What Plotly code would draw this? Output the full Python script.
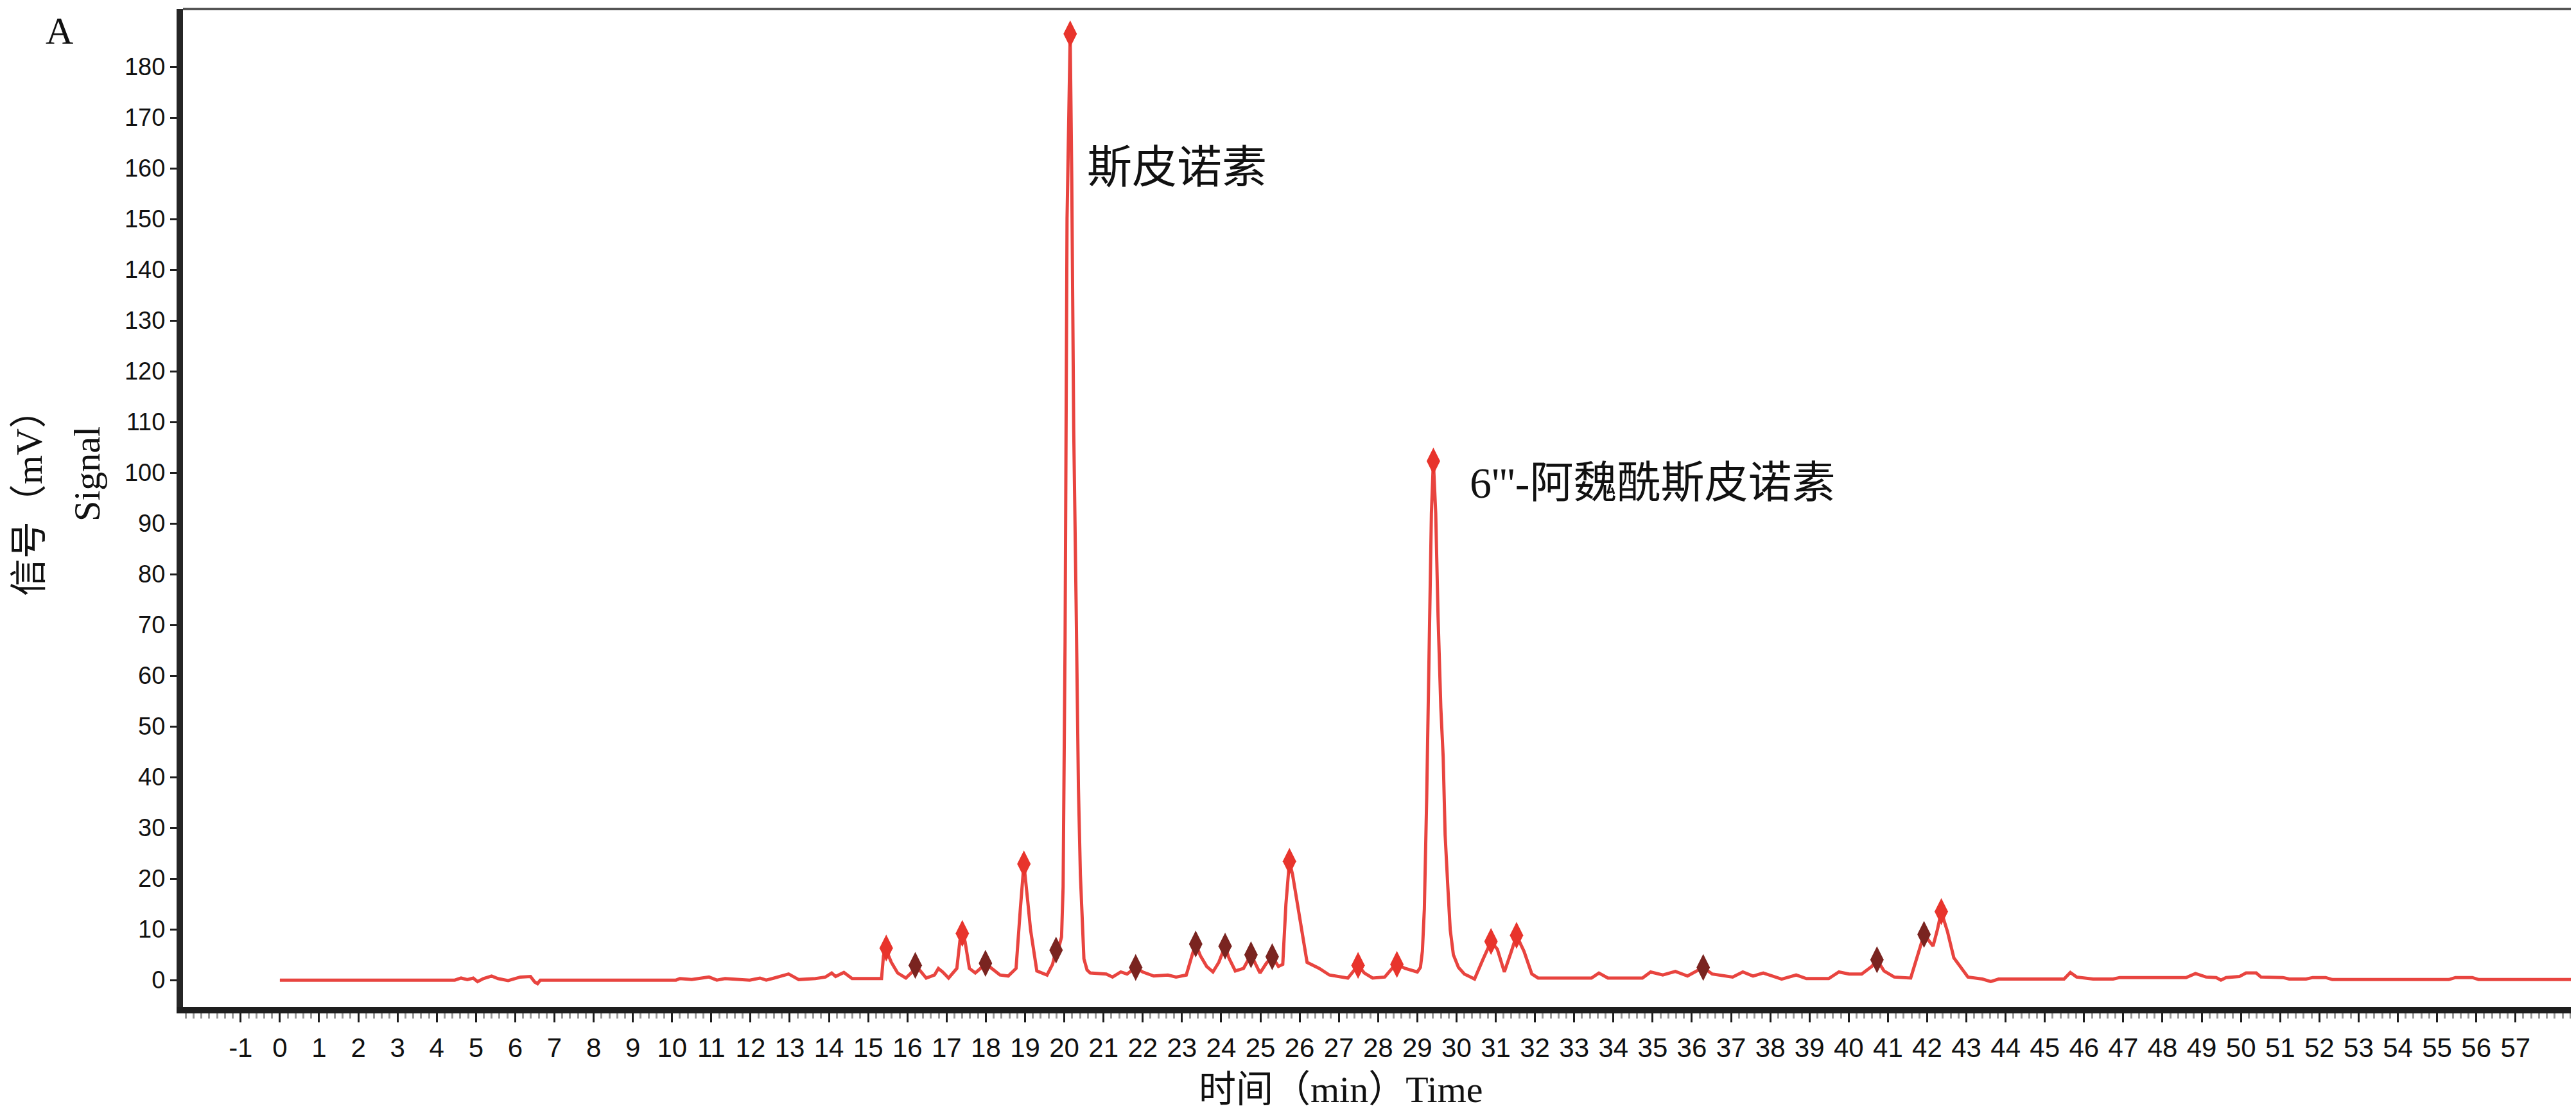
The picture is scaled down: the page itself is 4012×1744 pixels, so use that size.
import plotly.graph_objects as go

# ---------------- data ----------------
TIME_MIN = [0.0, 4.46, 4.62, 4.78, 4.93, 5.04, 5.19, 5.40, 5.56, 5.82, 6.13, 6.39, 6.50, 6.57, 6.64,
            10.1, 10.2, 10.5, 10.94, 11.14, 11.35, 11.98, 12.24, 12.4, 12.6, 12.97, 13.23, 13.65,
            13.91, 14.07, 14.17, 14.38, 14.59, 14.8, 15.0, 15.34, 15.39, 15.46, 15.52, 15.59, 15.75,
            15.96, 16.12, 16.20, 16.33, 16.48, 16.69, 16.79, 16.90, 17.05, 17.26, 17.34, 17.40, 17.47,
            17.58, 17.73, 17.89, 17.99, 18.15, 18.36, 18.57, 18.77, 18.88, 18.97, 19.07, 19.14, 19.30,
            19.56, 19.70, 19.79, 19.88, 19.93, 19.97, 20.02, 20.07, 20.15, 20.19, 20.24, 20.30, 20.36,
            20.41, 20.46, 20.50, 20.58, 20.66, 21.07, 21.23, 21.44, 21.60, 21.82, 22.00, 22.28, 22.64,
            22.85, 23.11, 23.27, 23.35, 23.47, 23.63, 23.79, 23.94, 24.10, 24.20, 24.36, 24.57, 24.76,
            24.88, 24.99, 25.15, 25.30, 25.46, 25.57, 25.65, 25.74, 25.82, 25.93, 26.03, 26.19, 26.50,
            26.76, 27.23, 27.39, 27.49, 27.65, 27.86, 28.17, 28.38, 28.48, 28.69, 29.00, 29.08, 29.13,
            29.18, 29.24, 29.31, 29.36, 29.41, 29.47, 29.53, 29.60, 29.66, 29.71, 29.78, 29.84, 29.92,
            30.05, 30.20, 30.46, 30.67, 30.88, 31.04, 31.22, 31.40, 31.53, 31.72, 31.92, 32.08, 33.44,
            33.63, 33.86, 34.74, 34.95, 35.26, 35.58, 35.89, 36.29, 36.52, 37.04, 37.30, 37.56, 37.82,
            38.29, 38.66, 38.92, 39.49, 39.75, 40.01, 40.33, 40.59, 40.72, 40.90, 41.16, 41.58, 41.79,
            41.92, 42.15, 42.26, 42.36, 42.52, 42.68, 43.04, 43.41, 43.62, 43.82, 45.49, 45.65, 45.81,
            46.23, 46.74, 46.91, 48.60, 48.84, 49.11, 49.37, 49.49, 49.62, 49.96, 50.13, 50.39, 50.51,
            51.07, 51.23, 51.66, 51.83, 52.16, 52.33, 55.30, 55.47, 55.90, 56.06, 58.6]
SIGNAL_MV = [0.0, 0.0, 0.4, 0.1, 0.4, -0.3, 0.3, 0.8, 0.3, -0.1, 0.6, 0.7, -0.4, -0.7, 0.0,
             0.0, 0.3, 0.1, 0.6, 0.0, 0.3, 0.0, 0.4, 0.0, 0.4, 1.2, 0.1, 0.3,
             0.6, 1.4, 0.7, 1.5, 0.3, 0.3, 0.3, 0.3, 4.8, 6.3, 4.8, 3.5, 1.4,
             0.4, 1.6, 2.9, 1.8, 0.4, 1.0, 2.3, 1.6, 0.4, 2.3, 7.8, 9.2, 7.6,
             2.3, 1.4, 2.5, 3.3, 2.3, 1.0, 0.8, 2.3, 14.1, 22.9, 15.4, 9.9, 1.8,
             1.0, 3.1, 5.9, 7.0, 8.5, 18.4, 66.8, 150.0, 186.5, 158.0, 108.6, 75.0, 38.0,
             20.8, 11.5, 4.2, 2.0, 1.4, 1.2, 0.6, 1.6, 1.2, 2.5, 1.6, 0.8, 1.0,
             0.6, 1.0, 5.2, 7.1, 4.8, 2.7, 1.6, 3.5, 6.7, 4.3, 1.8, 2.3, 5.0,
             3.1, 1.4, 3.3, 4.6, 2.7, 3.1, 14.9, 23.4, 20.8, 15.7, 10.7, 3.5, 2.3,
             1.0, 0.4, 1.8, 2.9, 1.4, 0.4, 0.6, 2.5, 3.1, 2.3, 1.6, 2.5, 5.7,
             14.0, 36.0, 66.0, 92.0, 102.3, 92.0, 71.6, 53.7, 44.0, 28.6, 18.2, 9.9, 5.0,
             2.5, 1.2, 0.2, 4.0, 7.6, 6.1, 1.6, 5.7, 8.8, 5.7, 1.2, 0.4, 0.4,
             1.4, 0.4, 0.4, 1.6, 1.0, 1.7, 0.8, 2.5, 1.2, 0.6, 1.6, 0.8, 1.4,
             0.2, 1.0, 0.3, 0.3, 1.6, 1.2, 1.2, 2.7, 4.0, 1.8, 0.6, 0.4, 5.7,
             9.0, 6.7, 9.9, 13.5, 9.5, 4.4, 0.6, 0.2, -0.3, 0.2, 0.2, 1.5, 0.6,
             0.2, 0.2, 0.5, 0.5, 1.3, 0.6, 0.5, 0.0, 0.5, 0.7, 1.4, 1.4, 0.6,
             0.5, 0.2, 0.2, 0.5, 0.5, 0.1, 0.1, 0.5, 0.5, 0.1, 0.1]

# integrated peaks (bright markers) and other detected peaks (dark markers)
MAIN_PEAK_T = [15.46, 17.40, 18.97, 20.15, 25.74, 27.49, 28.48, 29.41, 30.88, 31.53, 42.36]
MAIN_PEAK_V = [6.3, 9.2, 22.9, 186.5, 23.4, 2.9, 3.1, 102.3, 7.6, 8.8, 13.5]
MINOR_PEAK_T = [16.20, 17.99, 19.79, 21.82, 23.35, 24.10, 24.76, 25.30, 36.29, 40.72, 41.92]
MINOR_PEAK_V = [2.9, 3.3, 5.9, 2.5, 7.1, 6.7, 5.0, 4.6, 2.5, 4.0, 9.0]

PEAK_NAMES = ["斯皮诺素", "6'''-阿魏酰斯皮诺素"]
X_TICKS = list(range(-1, 58))
Y_TICKS = list(range(0, 190, 10))

# ---------------- figure ----------------
LINE_RED = "#e8443f"
MARK_RED = "#e8342c"
MARK_DARK = "#7a2420"
SERIF = "Liberation Serif, Noto Sans CJK SC, serif"
CJK = "Noto Sans CJK SC, sans-serif"

L, R, T, B = 277, 10, 6, 184
W, H = 4012, 1744
PW, PH = W - L - R, H - T - B


def px(xp):
    return (xp - L) / PW


def py(yp):
    return (H - B - yp) / PH


fig = go.Figure()
fig.add_trace(go.Scatter(x=TIME_MIN, y=SIGNAL_MV, mode="lines",
                         line=dict(color=LINE_RED, width=5), hoverinfo="skip"))
fig.add_trace(go.Scatter(x=MAIN_PEAK_T, y=MAIN_PEAK_V, mode="markers",
                         marker=dict(symbol="diamond-tall", size=30, color=MARK_RED)))
fig.add_trace(go.Scatter(x=MINOR_PEAK_T, y=MINOR_PEAK_V, mode="markers",
                         marker=dict(symbol="diamond-tall", size=30, color=MARK_DARK)))

fig.update_layout(
    width=W, height=H,
    margin=dict(l=L, r=R, t=T, b=B),
    paper_bgcolor="white", plot_bgcolor="white",
    showlegend=False,
    xaxis=dict(
        range=[-2.47, 58.51], tickmode="array", tickvals=X_TICKS,
        ticktext=[str(v) for v in X_TICKS],
        showgrid=False, zeroline=False,
        showline=True, linecolor="#1e1e1e", linewidth=10,
        ticks="outside", ticklen=14, tickwidth=3, tickcolor="#1e1e1e",
        tickfont=dict(family="Liberation Sans, Arial", size=42, color="#111"),
        ticklabelstandoff=4,
        minor=dict(dtick=0.2, ticks="outside", ticklen=8, tickwidth=3, tickcolor="#9a9a9a"),
    ),
    yaxis=dict(
        range=[-5.3, 191.4], tickmode="array", tickvals=Y_TICKS,
        ticktext=[str(v) for v in Y_TICKS],
        showgrid=False, zeroline=False,
        showline=True, linecolor="#262626", linewidth=10,
        ticks="outside", ticklen=10, tickwidth=3, tickcolor="#1e1e1e",
        tickfont=dict(family="Liberation Sans, Arial", size=38, color="#111"),
    ),
)

# top and right frame lines
fig.add_shape(type="line", xref="paper", yref="paper", x0=0, x1=1, y0=1, y1=1,
              line=dict(color="#555555", width=4))
fig.add_shape(type="line", xref="paper", yref="paper", x0=1, x1=1, y0=0, y1=1,
              line=dict(color="#1e1e1e", width=6))

# peak labels
fig.add_annotation(x=20.54, y=161, text=PEAK_NAMES[0], showarrow=False,
                   xanchor="left", yanchor="middle", font=dict(family=CJK, size=70, color="#111"))
fig.add_annotation(x=30.3, y=98, text=PEAK_NAMES[1], showarrow=False,
                   xanchor="left", yanchor="middle", font=dict(family=SERIF, size=68, color="#111"))

# axis titles and panel letter
fig.add_annotation(xref="paper", yref="paper", x=px(2080), y=py(1688),
                   text="时间（min）Time", showarrow=False, xanchor="center", yanchor="middle",
                   font=dict(family=SERIF, size=58, color="#111"))
fig.add_annotation(xref="paper", yref="paper", x=px(37), y=py(760),
                   text="信号（mV）", showarrow=False, textangle=-90,
                   xanchor="center", yanchor="middle",
                   font=dict(family=SERIF, size=58, color="#111"))
fig.add_annotation(xref="paper", yref="paper", x=px(127), y=py(730),
                   text="Signal", showarrow=False, textangle=-90,
                   xanchor="center", yanchor="middle",
                   font=dict(family=SERIF, size=58, color="#111"))
fig.add_annotation(xref="paper", yref="paper", x=px(84), y=py(40),
                   text="A", showarrow=False, xanchor="center", yanchor="middle",
                   font=dict(family=SERIF, size=60, color="#111"))

fig.write_html("out.html")
